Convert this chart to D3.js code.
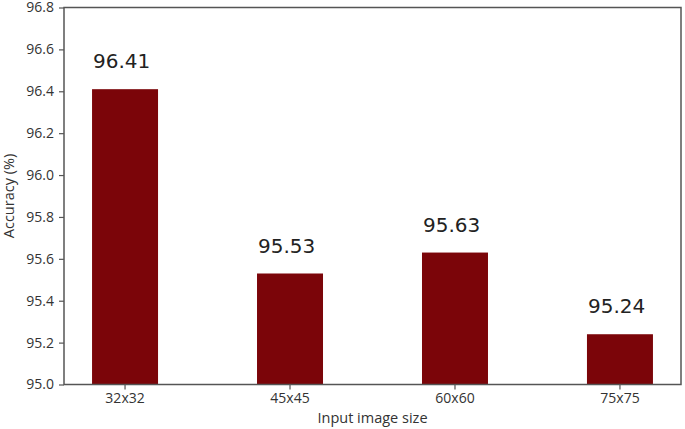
<!DOCTYPE html>
<html>
<head>
<meta charset="utf-8">
<script src="https://cdn.jsdelivr.net/npm/d3@7"></script>
<style>
	body { margin: 0; background: #fff; }
	svg text { font-family: 'Open Sans', sans-serif; }
</style>
</head>
<body>
<svg id="chart" width="685" height="429"></svg>
<script>
const sizes = ['32x32', '45x45', '60x60', '75x75'];
const accuracy = [96.41, 95.53, 95.63, 95.24];
const yTicks = [95.0, 95.2, 95.4, 95.6, 95.8, 96.0, 96.2, 96.4, 96.6, 96.8];

const svg = d3.select('#chart');
const plotLeft = 64, plotRight = 681, plotTop = 7.5, plotBottom = 384.5;

let x = d3.scaleBand().domain(sizes).range([plotLeft, plotRight]).paddingInner(0.6).paddingOuter(0.17);
let y = d3.scaleLinear().domain([95.0, 96.8]).range([plotBottom, plotTop]);

//bars
svg.selectAll('rect.bar')
	.data(accuracy)
	.enter()
	.append('rect')
	.attr('class', 'bar')
	.attr('x', (d, i) => x(sizes[i]))
	.attr('y', (d) => y(d))
	.attr('width', x.bandwidth())
	.attr('height', (d) => y(95.0) - y(d))
	.style('fill', '#7b0509');

//value labels, left aligned on the bar edge, 0.1 above the top
svg.selectAll('text.val')
	.data(accuracy)
	.enter()
	.append('text')
	.attr('class', 'val')
	.attr('x', (d, i) => x(sizes[i]) + 1)
	.attr('y', (d) => y(d + 0.1))
	.text((d) => d.toFixed(2))
	.style('font-family', 'DejaVu Sans')
	.style('font-size', '20px')
	.style('fill', '#222');

//axes
let xAxis = svg.append('g').attr('transform', 'translate(0,' + plotBottom + ')').call(d3.axisBottom(x).tickSize(5).tickPadding(4));
let yAxis = svg.append('g').attr('transform', 'translate(' + plotLeft + ',0)').call(d3.axisLeft(y).tickValues(yTicks).tickFormat(d3.format('.1f')).tickSize(5).tickPadding(5));

[xAxis, yAxis].forEach((g) => {
	g.select('.domain').remove();
	g.selectAll('line').attr('stroke', '#555').attr('stroke-width', 1.2);
	g.selectAll('text').style('font-size', '14px').style('fill', '#333').style('font-family', 'Open Sans');
});

//frame
svg.append('rect')
	.attr('x', plotLeft)
	.attr('y', plotTop)
	.attr('width', plotRight - plotLeft)
	.attr('height', plotBottom - plotTop)
	.style('fill', 'none')
	.attr('stroke', '#555')
	.attr('stroke-width', 1.5);

//axis titles
svg.append('text')
	.attr('x', (plotLeft + plotRight) / 2)
	.attr('y', 423)
	.attr('text-anchor', 'middle')
	.text('Input image size')
	.style('font-size', '14.5px')
	.style('fill', '#333');

svg.append('text')
	.attr('transform', 'translate(14,' + (plotTop + plotBottom) / 2 + ') rotate(-90)')
	.attr('text-anchor', 'middle')
	.text('Accuracy (%)')
	.style('font-size', '14.5px')
	.style('fill', '#333');
</script>
</body>
</html>
